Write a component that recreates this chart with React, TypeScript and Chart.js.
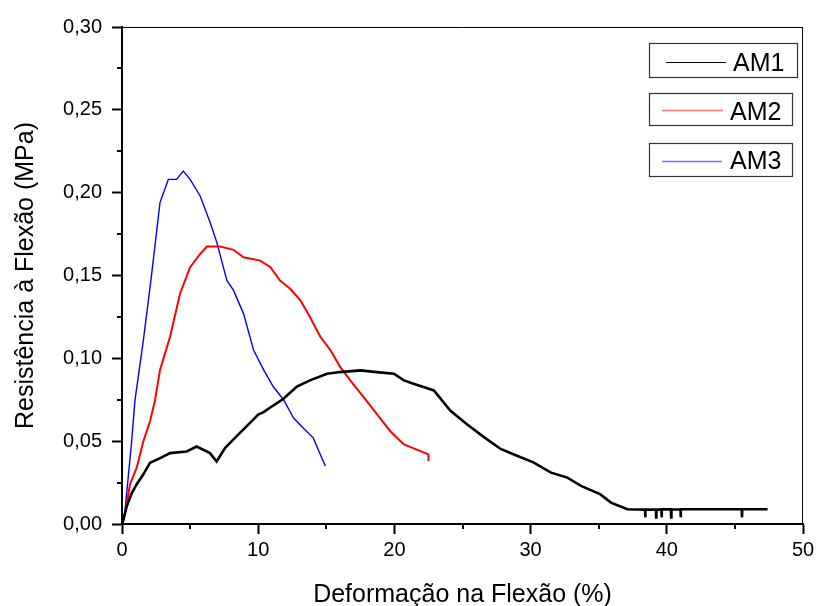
import React, { useEffect, useRef } from "react";
import { Chart, registerables } from "chart.js";

Chart.register(...registerables);

const FONT = "'Liberation Sans', Arial, sans-serif";

const seriesNames = ["AM1", "AM2", "AM3"];
const seriesColors = ["#000000", "#ff0000", "#0000ff"];
const seriesWidths = [2.6, 2.0, 1.4];

const am1X = [0, 0.1, 0.34, 0.71, 1.08, 1.57, 2.06, 2.8, 3.53, 4.75, 5.48, 6.46, 6.95, 7.56, 8.42, 9.4, 10.0, 10.4, 11.1, 11.86, 12.84, 13.8, 15.05, 16.0, 17.5, 18.7, 19.96, 20.7, 21.4, 22.9, 24.1, 25.3, 26.6, 27.8, 29.0, 30.2, 31.5, 32.7, 33.7, 35.1, 35.9, 37.1, 38.4, 38.42, 38.44, 39.2, 39.22, 39.24, 39.6, 39.62, 39.64, 40.3, 40.32, 40.34, 41.0, 41.02, 41.04, 42.0, 44.0, 45.5, 45.52, 45.54, 47.4];
const am1Y = [0, 0.0024, 0.0105, 0.0185, 0.024, 0.03, 0.037, 0.0398, 0.0428, 0.0438, 0.0468, 0.0428, 0.0377, 0.0459, 0.053, 0.061, 0.066, 0.0675, 0.0715, 0.0756, 0.083, 0.0867, 0.0907, 0.0917, 0.0927, 0.0917, 0.0907, 0.0867, 0.0847, 0.0806, 0.0685, 0.0604, 0.0523, 0.0453, 0.0412, 0.0372, 0.031, 0.028, 0.023, 0.018, 0.0129, 0.0089, 0.0087, 0.004, 0.0087, 0.0087, 0.004, 0.0087, 0.0088, 0.004, 0.0088, 0.0088, 0.004, 0.0088, 0.0089, 0.004, 0.0089, 0.0089, 0.0089, 0.0089, 0.004, 0.0089, 0.0089];

const am2X = [0, 0.22, 0.59, 1.08, 1.57, 2.06, 2.42, 2.79, 3.53, 4.26, 5.0, 5.74, 6.23, 7.2, 8.19, 8.92, 10.15, 10.9, 11.6, 12.35, 13.1, 13.8, 14.56, 15.3, 16.0, 16.76, 17.74, 18.7, 19.7, 20.7, 22.5, 22.5];
const am2Y = [0, 0.0065, 0.024, 0.034, 0.05, 0.062, 0.0745, 0.093, 0.113, 0.139, 0.155, 0.163, 0.1675, 0.1675, 0.1655, 0.161, 0.159, 0.155, 0.147, 0.142, 0.135, 0.125, 0.113, 0.105, 0.095, 0.0867, 0.0766, 0.0665, 0.056, 0.048, 0.042, 0.038];

const am3X = [0, 0.22, 0.46, 0.71, 0.95, 1.57, 2.18, 2.79, 3.4, 4.0, 4.5, 5.0, 5.74, 6.47, 6.96, 7.7, 8.19, 8.92, 9.66, 10.4, 11.1, 11.86, 12.6, 13.3, 14.04, 14.56, 14.93];
const am3Y = [0, 0.0079, 0.0286, 0.05, 0.0745, 0.111, 0.151, 0.194, 0.208, 0.208, 0.213, 0.208, 0.198, 0.182, 0.17, 0.147, 0.141, 0.127, 0.105, 0.093, 0.083, 0.075, 0.064, 0.058, 0.052, 0.042, 0.035];

const xMin = 0, xMax = 50, xStep = 10, xMinorStep = 5;
const yMin = 0, yMax = 0.3, yStep = 0.05, yMinorStep = 0.025;

const xTitle = "Deformação na Flexão (%)";
const yTitle = "Resistência à Flexão (MPa)";

function toPoints(xs: number[], ys: number[]) {
  return xs.map((x, i) => ({ x, y: ys[i] }));
}

const framePlugin = {
  id: "frameAndLegend",
  afterDraw(chart: any) {
    const ctx = chart.ctx;
    const { left, right, top, bottom } = chart.chartArea;
    const xs = chart.scales.x;
    const ys = chart.scales.y;
    ctx.save();
    ctx.strokeStyle = "#000";
    ctx.lineWidth = 1;
    ctx.beginPath();
    ctx.moveTo(left, top + 0.5);
    ctx.lineTo(right, top + 0.5);
    ctx.moveTo(right - 0.5, top);
    ctx.lineTo(right - 0.5, bottom);
    ctx.stroke();
    ctx.lineWidth = 2;
    ctx.beginPath();
    for (let v = xMin + xMinorStep; v < xMax; v += xMinorStep * 2) {
      const px = Math.round(xs.getPixelForValue(v));
      ctx.moveTo(px, bottom);
      ctx.lineTo(px, bottom + 5);
    }
    for (let v = yMin + yMinorStep; v < yMax; v += yMinorStep * 2) {
      const py = Math.round(ys.getPixelForValue(v));
      ctx.moveTo(left, py);
      ctx.lineTo(left - 5, py);
    }
    ctx.stroke();

    const boxes = [
      { x: 649, y: 43, w: 148, h: 34, lx1: 666, lx2: 726, ly: 62, tx: 733, ty: 71 },
      { x: 649, y: 93, w: 143, h: 32, lx1: 662, lx2: 723, ly: 110, tx: 730, ty: 120 },
      { x: 649, y: 143, w: 143, h: 33, lx1: 662, lx2: 722, ly: 161, tx: 730, ty: 169 },
    ];
    boxes.forEach((b, i) => {
      ctx.fillStyle = "#fff";
      ctx.fillRect(b.x, b.y, b.w, b.h);
      ctx.strokeStyle = "#333";
      ctx.lineWidth = 1.2;
      ctx.strokeRect(b.x + 0.5, b.y + 0.5, b.w, b.h);
      ctx.strokeStyle = seriesColors[i];
      ctx.globalAlpha = i === 0 ? 1 : 0.55;
      ctx.lineWidth = i === 0 ? 1 : 1.5;
      ctx.beginPath();
      ctx.moveTo(b.lx1, b.ly + 0.5);
      ctx.lineTo(b.lx2, b.ly + 0.5);
      ctx.stroke();
      ctx.globalAlpha = 1;
      ctx.fillStyle = "#000";
      ctx.font = `25px ${FONT}`;
      ctx.textBaseline = "alphabetic";
      ctx.textAlign = "left";
      ctx.fillText(seriesNames[i], b.tx, b.ty);
    });
    ctx.restore();
  },
};

export default function App() {
  const ref = useRef<HTMLCanvasElement | null>(null);
  useEffect(() => {
    document.body.style.margin = "0";
    const canvas = ref.current;
    if (!canvas) return;
    const fmt = (v: number) => Number(v).toFixed(2).replace(".", ",");
    const chart = new Chart(canvas, {
      type: "line",
      data: {
        datasets: [
          { label: seriesNames[0], data: toPoints(am1X, am1Y), borderColor: seriesColors[0], borderWidth: seriesWidths[0], pointRadius: 0, tension: 0, fill: false },
          { label: seriesNames[1], data: toPoints(am2X, am2Y), borderColor: seriesColors[1], borderWidth: seriesWidths[1], pointRadius: 0, tension: 0, fill: false },
          { label: seriesNames[2], data: toPoints(am3X, am3Y), borderColor: seriesColors[2], borderWidth: seriesWidths[2], pointRadius: 0, tension: 0, fill: false },
        ],
      },
      options: {
        animation: false,
        responsive: false,
        devicePixelRatio: 1,
        layout: { padding: { top: 27, right: 18, left: 0, bottom: 0 } },
        plugins: { legend: { display: false }, tooltip: { enabled: false } },
        scales: {
          x: {
            type: "linear",
            min: xMin,
            max: xMax,
            ticks: { stepSize: xStep, color: "#000", padding: 4, font: { family: FONT, size: 20 }, maxRotation: 0 },
            grid: { drawOnChartArea: false, drawTicks: true, tickLength: 10, tickWidth: 2, tickColor: "#000" },
            border: { display: true, color: "#000", width: 2 },
            title: { display: true, text: xTitle, color: "#000", font: { family: FONT, size: 25, lineHeight: 1 }, padding: { top: 0, bottom: -2 } },
            afterFit: (s: any) => { s.height = 82; },
          },
          y: {
            type: "linear",
            min: yMin,
            max: yMax,
            ticks: { stepSize: yStep, color: "#000", padding: 10, font: { family: FONT, size: 20 }, callback: (v: any) => fmt(v) },
            grid: { drawOnChartArea: false, drawTicks: true, tickLength: 10, tickWidth: 2, tickColor: "#000" },
            border: { display: true, color: "#000", width: 2 },
            title: { display: true, text: yTitle, color: "#000", font: { family: FONT, size: 25, lineHeight: 1 }, padding: { top: 14, bottom: 0 } },
            afterFit: (s: any) => { s.width = 122; },
          },
        },
      },
      plugins: [framePlugin],
    } as any);
    return () => chart.destroy();
  }, []);
  return (
    <div style={{ width: 821, height: 606, background: "#fff" }}>
      <canvas ref={ref} width={821} height={606} style={{ display: "block" }} />
    </div>
  );
}
